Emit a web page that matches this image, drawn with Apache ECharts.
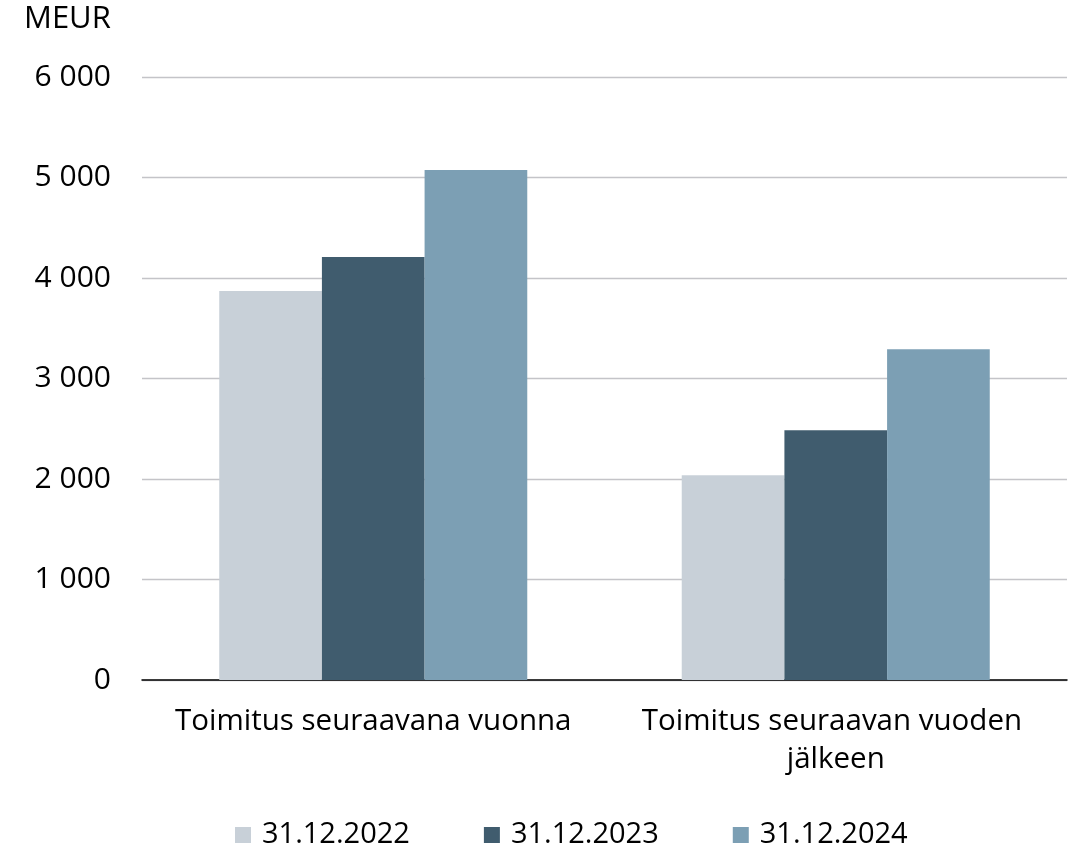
<!DOCTYPE html>
<html><head><meta charset="utf-8">
<script src="https://cdn.jsdelivr.net/npm/echarts@6/dist/echarts.min.js"></script>
<style>html,body{margin:0;padding:0;background:#fff}#c{width:1073px;height:846px}</style>
</head><body><div id="c"></div>
<script>
const categories = ["Toimitus seuraavana vuonna", "Toimitus seuraavan vuoden jälkeen"];
const seriesNames = ["31.12.2022", "31.12.2023", "31.12.2024"];
const values2022 = [3870, 2037];
const values2023 = [4208, 2485];
const values2024 = [5075, 3292];
const yTicks = [0, 1000, 2000, 3000, 4000, 5000, 6000];
const colors = ["#C8D0D8", "#405C6E", "#7C9FB4"];
const font = "'Open Sans', 'Noto Sans', sans-serif";
const fmt = v => String(v).replace(/\B(?=(\d{3})+(?!\d))/g, " ");
const chart = echarts.init(document.getElementById('c'));
const data = [values2022, values2023, values2024];
chart.setOption({
  animation: false,
  color: colors,
  textStyle: {fontFamily: font},
  grid: {left: 142, right: 6, top: 77, bottom: 166},
  legend: {
    top: 814, left: 230, itemWidth: 16, itemHeight: 16, itemGap: 74,
    icon: 'rect',
    textStyle: {fontSize: 29, lineHeight: 32, color: '#000', fontFamily: font, padding: [0,0,0,6]},
    data: seriesNames
  },
  graphic: [{type: 'text', x: 24, y: 19, style: {text: 'MEUR', fontSize: 31, fill: '#000', fontFamily: font, verticalAlign: 'middle'}}],
  xAxis: {
    type: 'category', data: categories,
    axisLine: {lineStyle: {color: '#000', width: 1.5}},
    axisTick: {show: false},
    axisLabel: {fontSize: 29.5, color: '#000', margin: 23, lineHeight: 38, width: 430, overflow: 'break', interval: 0}
  },
  yAxis: {
    type: 'value', min: yTicks[0], max: yTicks[yTicks.length-1], interval: 1000,
    axisLine: {show: false}, axisTick: {show: false},
    splitLine: {lineStyle: {color: '#C4C4C8', width: 1.3}},
    axisLabel: {fontSize: 30, color: '#000', margin: 31, formatter: fmt}
  },
  series: seriesNames.map((n, i) => ({
    name: n, type: 'bar', data: data[i],
    barGap: '0%', barCategoryGap: '33.4%',
    itemStyle: {color: colors[i]}
  }))
});
</script></body></html>
